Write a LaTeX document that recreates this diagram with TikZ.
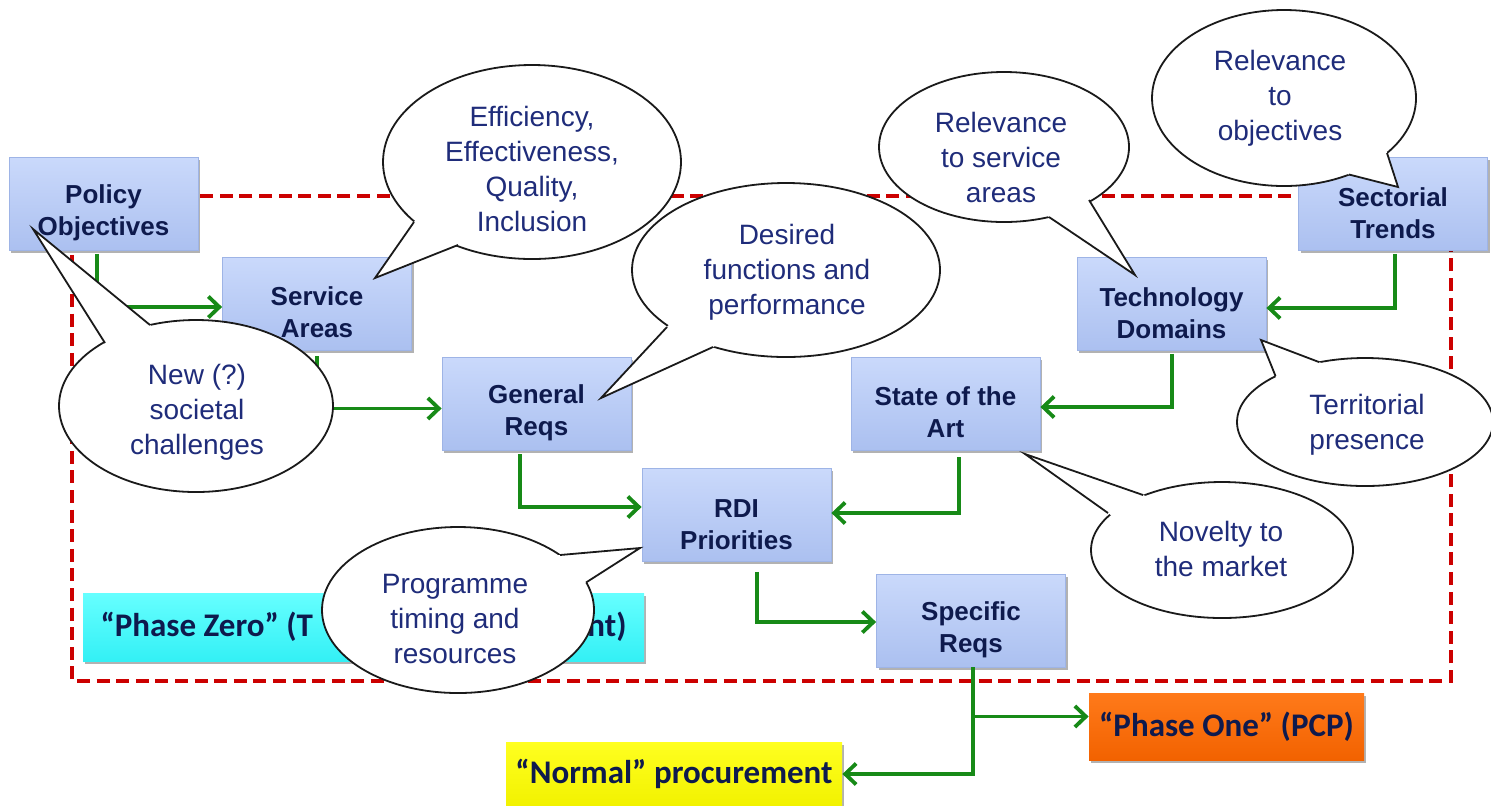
\documentclass[tikz,border=0pt]{standalone}
\usepackage{fontspec}
\setmainfont{Liberation Sans}
\newfontfamily\calfont{Carlito}
\usetikzlibrary{arrows.meta,shadows,calc}
\definecolor{boxtxt}{HTML}{0E1A4D}
\definecolor{cotxt}{HTML}{1F2C7A}
\definecolor{grn}{HTML}{178A17}
\definecolor{dred}{HTML}{CC0000}
\definecolor{boxtop}{HTML}{CAD9FB}
\definecolor{boxbot}{HTML}{ABC0F0}
\definecolor{boxedge}{HTML}{9EB4E6}
\definecolor{cyT}{HTML}{66FFFF}
\definecolor{cyB}{HTML}{33F0F5}
\definecolor{orT}{HTML}{FF7A1A}
\definecolor{orB}{HTML}{F26200}
\definecolor{yeT}{HTML}{FFFF20}
\definecolor{yeB}{HTML}{F2F200}
\definecolor{cobd}{HTML}{1A1A1A}
\newcommand\mycallout[6]{%
  \draw[cobord, fill=white] #1 ellipse [x radius=#2, y radius=#3];
  \fill[white] #4 -- ($#4!1.08!#5$) -- ($#4!1.08!#6$) -- cycle;
  \draw[cobord] #5 -- #4 -- #6;
}
\begin{document}
\begin{tikzpicture}[x=0.5pt,y=-0.5pt,
  bx/.style={rectangle, inner sep=0pt, minimum width=94.5pt, minimum height=46.5pt,
    top color=boxtop, bottom color=boxbot, draw=boxedge, line width=0.4pt,
    align=center, text=boxtxt, font=\bfseries\fontsize{13}{16}\selectfont,
    text height=34.5pt,
    drop shadow={shadow xshift=1.2pt, shadow yshift=-1.4pt, opacity=0.3, fill=black}},
  phase/.style={rectangle, inner sep=0pt, text=boxtxt,
    font=\calfont\bfseries\fontsize{16.5}{20}\selectfont,
    drop shadow={shadow xshift=1.2pt, shadow yshift=-1.4pt, opacity=0.3, fill=black}},
  arr/.style={draw=grn, line width=1.9pt, -{Straight Barb[length=5.5pt,width=10.5pt]}},
  cobord/.style={draw=cobd, line width=0.9pt},
  cotext/.style={align=center, text=cotxt, font=\fontsize{14}{17.5}\selectfont, inner sep=0pt},
  frame/.style={draw=dred, line width=1.6pt, dash pattern=on 6.5pt off 3.3pt}
]
\useasboundingbox (0,0) rectangle (1491,805);

% dashed frame
\draw[frame] (72,196) rectangle (1451,681);

% boxes
\node[bx] (pol) at (103.5,204) {Policy\\Objectives};
\node[bx] (srv) at (317,303.5) {Service\\Areas};
\node[bx] (gen) at (536.5,403.5) {General\\Reqs};
\node[bx] (sta) at (945.5,403.5) {State of the\\Art};
\node[bx] (tec) at (1171.5,304) {Technology\\Domains};
\node[bx] (sec) at (1393,204) {Sectorial\\Trends};
\node[bx] (rdi) at (736.5,515) {RDI\\Priorities};
\node[bx] (spe) at (971,620.5) {Specific\\Reqs};

\node[phase, top color=cyT, bottom color=cyB, minimum width=280.5pt, minimum height=34pt] (pz) at (363.5,627) {\makebox[263pt]{“Phase Zero” (T\hfill nt)}};
\node[phase, top color=orT, bottom color=orB, minimum width=137.5pt, minimum height=33.5pt] (p1) at (1226.5,726.5) {“Phase One” (PCP)};
\node[phase, top color=yeT, bottom color=yeB, minimum width=168pt, minimum height=32pt] (nor) at (674,774) {“Normal” procurement};

% connectors
\draw[arr] ($(pol.south)+(-6.5,3)$) |- ($(srv.west)+(0,3.5)$);
\draw[arr] ($(srv.south)+(0,6)$) |- ($(gen.west)+(0,5)$);
\draw[arr] ($(gen.south)+(-16.5,4)$) |- ($(rdi.west)+(0,-8)$);
\draw[arr] ($(sta.south)+(13.5,7)$) |- ($(rdi.east)+(0,-2)$);
\draw[arr] ($(rdi.south)+(20.5,10)$) |- ($(spe.west)+(0,1.5)$);
\draw[arr] ($(sec.south)+(2,3)$) |- ($(tec.east)+(0,4)$);
\draw[arr] ($(tec.south)+(0.5,3)$) |- ($(sta.east)+(0,3.5)$);
\draw[arr] ($(spe.south)+(2,0)$) |- ($(p1.west)+(0,-10)$);
\draw[arr] ($(spe.south)+(2,0)$) |- (nor.east);

% callouts
\mycallout{(196,406)}{68.5pt}{43pt}{(33,229)}{(105,343)}{(150,325)}
\node[cotext] (t1) at (197,412) {New (?)\\societal\\challenges};

\mycallout{(532,162)}{74.5pt}{48.5pt}{(375,278)}{(414,222)}{(458,245)}
\node[cotext] (t2) at (532,168.5) {Efficiency,\\Effectiveness,\\Quality,\\Inclusion};

\mycallout{(786,270)}{77pt}{43.5pt}{(601,398)}{(667,327)}{(713,347)}
\node[cotext] (t3) at (787,272) {Desired\\functions and\\performance};

\mycallout{(1004,147)}{62.5pt}{37.5pt}{(1135,275)}{(1089,200)}{(1049,217)}
\node[cotext] (t4) at (1001,157.5) {Relevance\\to service\\areas};

\mycallout{(1284,98)}{66pt}{44pt}{(1398,187)}{(1387,153)}{(1349,174.5)}
\node[cotext] (t5) at (1280,98) {Relevance\\to\\objectives};

\mycallout{(1365,422)}{64pt}{32pt}{(1261,340)}{(1275.5,376)}{(1319.4,362.2)}
\node[cotext] (t6) at (1367,425) {Territorial\\presence};

\mycallout{(1222,550)}{65.5pt}{34pt}{(1025,454)}{(1143,495)}{(1108,513)}
\node[cotext] (t7) at (1221,549) {Novelty to\\the market};

\mycallout{(458,610)}{68pt}{41.5pt}{(640,548)}{(560,555)}{(586,582.5)}
\node[cotext] (t8) at (455,619) {Programme\\timing and\\resources};
\end{tikzpicture}
\end{document}
